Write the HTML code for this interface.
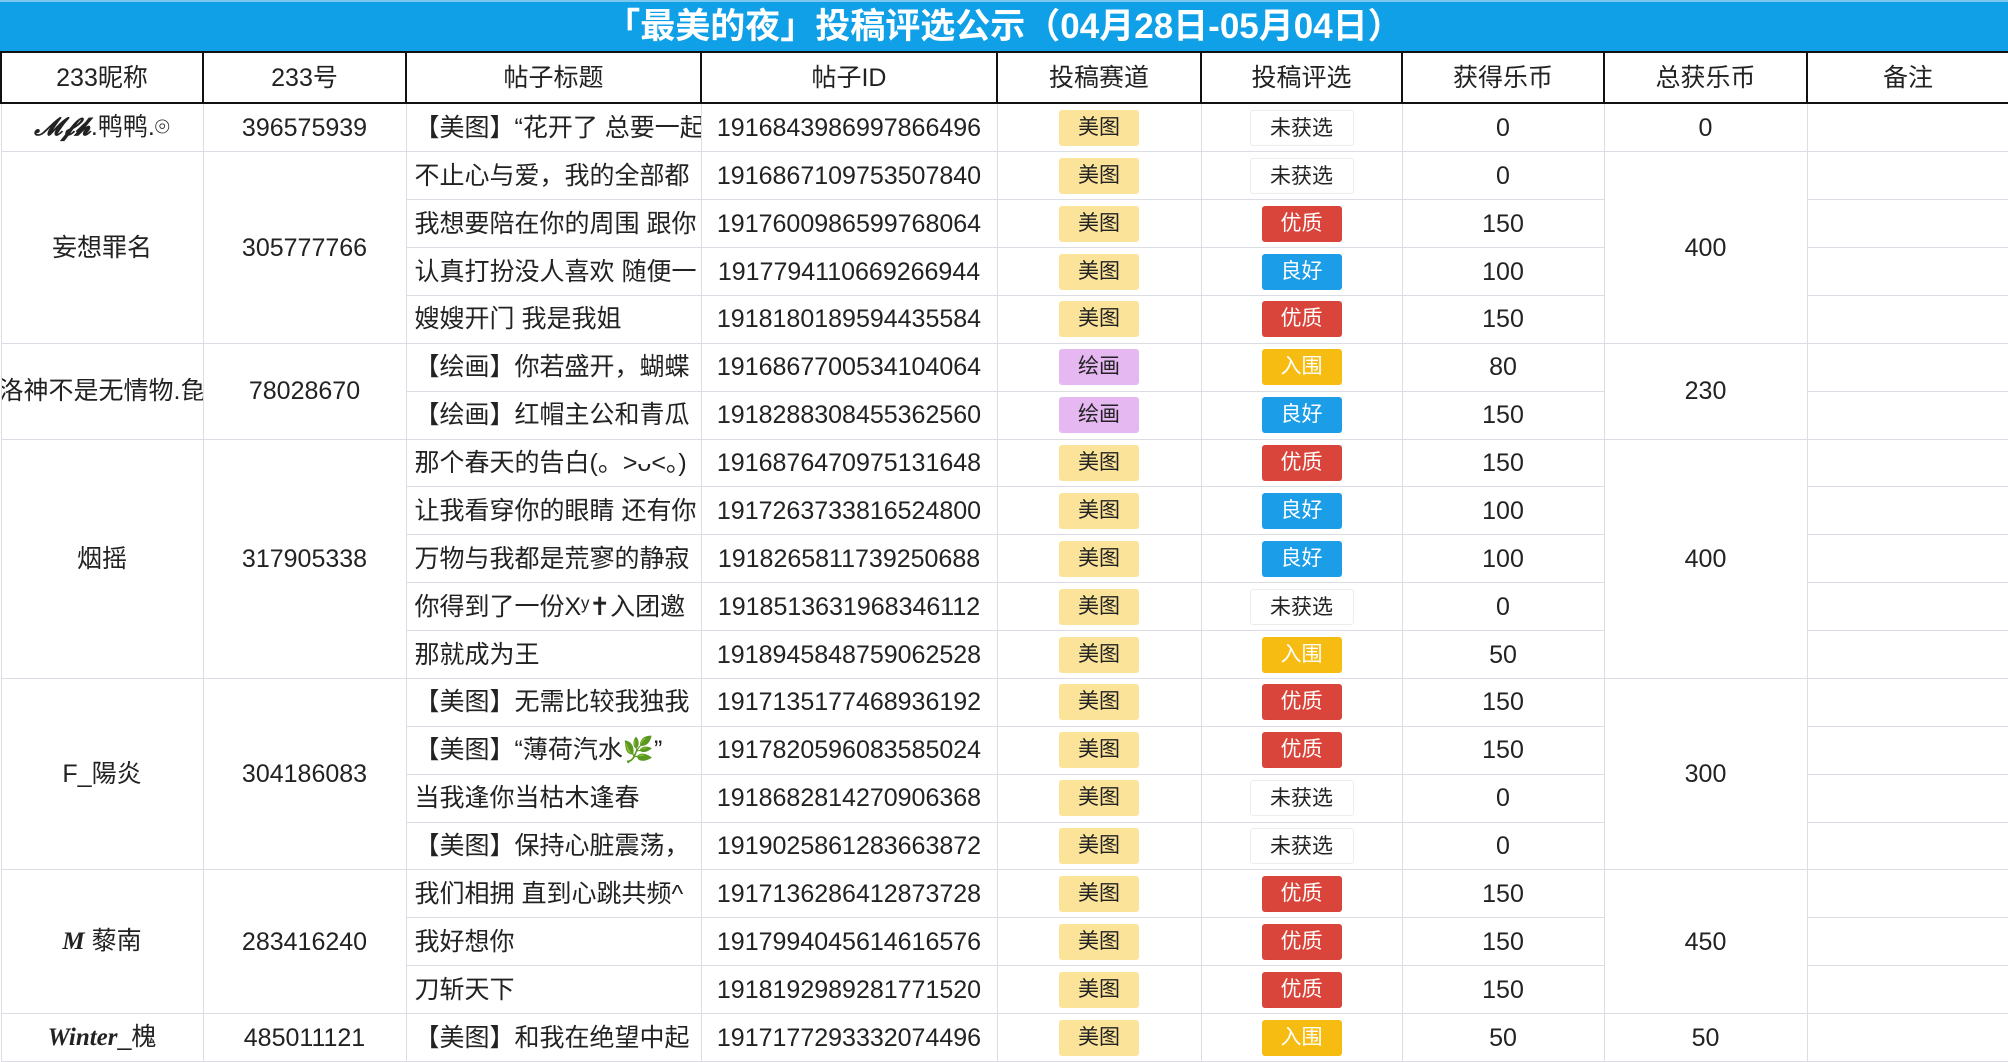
<!DOCTYPE html>
<html><head><meta charset="utf-8"><style>
html,body{margin:0;padding:0;background:#fff;width:2008px;height:1062px;overflow:hidden}
body{font-family:"Liberation Sans","Noto Sans CJK SC",sans-serif;color:#222}
.title{height:51px;background:#0fa0e8;color:#fff;font-weight:bold;font-size:35px;text-align:center;line-height:50px;border-top:2px solid #7cc7f0;box-sizing:border-box}
table{border-collapse:collapse;table-layout:fixed;width:2008px;height:1011px}
td,th{border:1.5px solid #dcdce4;font-weight:normal;font-size:25px;line-height:30px;text-align:center;white-space:nowrap;overflow:hidden;padding:0;height:40px}
tr.h th{border:2px solid #111;height:42px}
td.t{text-align:left;padding-left:8px}
.c{display:flex;justify-content:center;overflow:hidden;width:100%}
.b{display:inline-block;width:80px;height:36px;line-height:36px;font-size:21px;border-radius:3px;vertical-align:middle}
.my{background:#fbe49a}.hh{background:#e6b8f2}
.yz{background:#d9453a;color:#fff}.lh{background:#1c9de8;color:#fff}.rw{background:#f6bc12;color:#fff}
.wx{background:#fff;border:1px solid #ececec;width:104px;box-sizing:border-box}
</style></head><body>
<div class="title">「最美的夜」投稿评选公示（04月28日-05月04日）</div>
<table>
<colgroup><col style="width:202px"><col style="width:203px"><col style="width:295px"><col style="width:296px"><col style="width:204px"><col style="width:201px"><col style="width:202px"><col style="width:203px"><col style="width:202px"></colgroup>
<tr class="h"><th>233昵称</th><th>233号</th><th>帖子标题</th><th>帖子ID</th><th>投稿赛道</th><th>投稿评选</th><th>获得乐币</th><th>总获乐币</th><th>备注</th></tr>
<tr><td><i style="font-family:'Liberation Serif',serif;font-weight:bold">𝓜𝓯𝓱</i>.鸭鸭.⌾</td><td>396575939</td><td class="t">【美图】“花开了 总要一起</td><td>1916843986997866496</td><td><span class="b my">美图</span></td><td><span class="b wx">未获选</span></td><td>0</td><td>0</td><td></td></tr>
<tr><td rowspan="4">妄想罪名</td><td rowspan="4">305777766</td><td class="t">不止心与爱，我的全部都</td><td>1916867109753507840</td><td><span class="b my">美图</span></td><td><span class="b wx">未获选</span></td><td>0</td><td rowspan="4">400</td><td></td></tr>
<tr><td class="t">我想要陪在你的周围 跟你</td><td>1917600986599768064</td><td><span class="b my">美图</span></td><td><span class="b yz">优质</span></td><td>150</td><td></td></tr>
<tr><td class="t">认真打扮没人喜欢 随便一</td><td>1917794110669266944</td><td><span class="b my">美图</span></td><td><span class="b lh">良好</span></td><td>100</td><td></td></tr>
<tr><td class="t">嫂嫂开门 我是我姐</td><td>1918180189594435584</td><td><span class="b my">美图</span></td><td><span class="b yz">优质</span></td><td>150</td><td></td></tr>
<tr><td rowspan="2"><div class="c"><span>洛神不是无情物.㲋</span></div></td><td rowspan="2">78028670</td><td class="t">【绘画】你若盛开，蝴蝶</td><td>1916867700534104064</td><td><span class="b hh">绘画</span></td><td><span class="b rw">入围</span></td><td>80</td><td rowspan="2">230</td><td></td></tr>
<tr><td class="t">【绘画】红帽主公和青瓜</td><td>1918288308455362560</td><td><span class="b hh">绘画</span></td><td><span class="b lh">良好</span></td><td>150</td><td></td></tr>
<tr><td rowspan="5">烟摇</td><td rowspan="5">317905338</td><td class="t">那个春天的告白(。˃ᴗ˂。)</td><td>1916876470975131648</td><td><span class="b my">美图</span></td><td><span class="b yz">优质</span></td><td>150</td><td rowspan="5">400</td><td></td></tr>
<tr><td class="t">让我看穿你的眼睛 还有你</td><td>1917263733816524800</td><td><span class="b my">美图</span></td><td><span class="b lh">良好</span></td><td>100</td><td></td></tr>
<tr><td class="t">万物与我都是荒寥的静寂</td><td>1918265811739250688</td><td><span class="b my">美图</span></td><td><span class="b lh">良好</span></td><td>100</td><td></td></tr>
<tr><td class="t">你得到了一份Xʸ✝入团邀</td><td>1918513631968346112</td><td><span class="b my">美图</span></td><td><span class="b wx">未获选</span></td><td>0</td><td></td></tr>
<tr><td class="t">那就成为王</td><td>1918945848759062528</td><td><span class="b my">美图</span></td><td><span class="b rw">入围</span></td><td>50</td><td></td></tr>
<tr><td rowspan="4">F_陽炎</td><td rowspan="4">304186083</td><td class="t">【美图】无需比较我独我</td><td>1917135177468936192</td><td><span class="b my">美图</span></td><td><span class="b yz">优质</span></td><td>150</td><td rowspan="4">300</td><td></td></tr>
<tr><td class="t">【美图】“薄荷汽水🌿”</td><td>1917820596083585024</td><td><span class="b my">美图</span></td><td><span class="b yz">优质</span></td><td>150</td><td></td></tr>
<tr><td class="t">当我逢你当枯木逢春</td><td>1918682814270906368</td><td><span class="b my">美图</span></td><td><span class="b wx">未获选</span></td><td>0</td><td></td></tr>
<tr><td class="t">【美图】保持心脏震荡，</td><td>1919025861283663872</td><td><span class="b my">美图</span></td><td><span class="b wx">未获选</span></td><td>0</td><td></td></tr>
<tr><td rowspan="3"><i style="font-family:'Liberation Serif',serif;font-weight:bold">M</i> 藜南</td><td rowspan="3">283416240</td><td class="t">我们相拥 直到心跳共频^</td><td>1917136286412873728</td><td><span class="b my">美图</span></td><td><span class="b yz">优质</span></td><td>150</td><td rowspan="3">450</td><td></td></tr>
<tr><td class="t">我好想你</td><td>1917994045614616576</td><td><span class="b my">美图</span></td><td><span class="b yz">优质</span></td><td>150</td><td></td></tr>
<tr><td class="t">刀斩天下</td><td>1918192989281771520</td><td><span class="b my">美图</span></td><td><span class="b yz">优质</span></td><td>150</td><td></td></tr>
<tr><td><b style="font-family:'Liberation Serif',serif;font-style:italic">Winter</b>_槐</td><td>485011121</td><td class="t">【美图】和我在绝望中起</td><td>1917177293332074496</td><td><span class="b my">美图</span></td><td><span class="b rw">入围</span></td><td>50</td><td>50</td><td></td></tr>
</table>
</body></html>
